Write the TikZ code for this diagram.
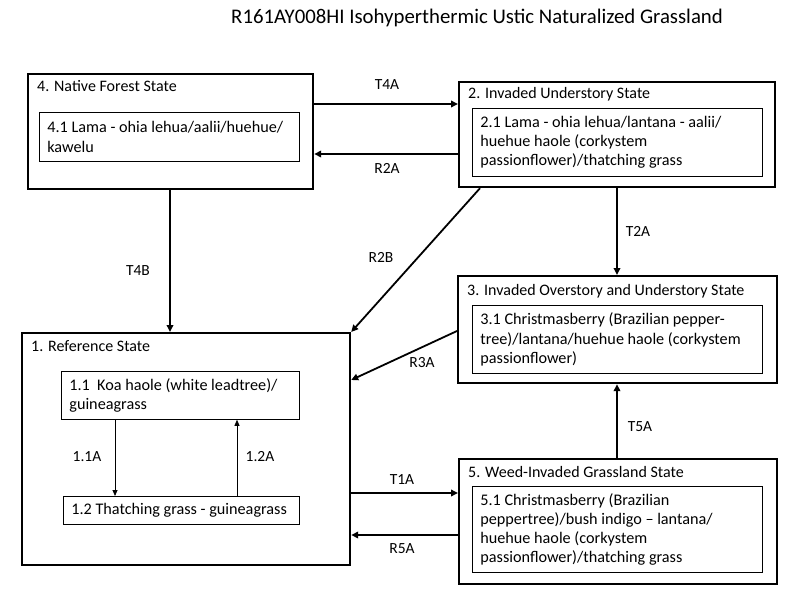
\documentclass[tikz,border=0pt]{standalone}
\usepackage{fontspec}
\setmainfont{Carlito}
\usetikzlibrary{arrows.meta}

\tikzset{
state/.style={draw, line width=2.2pt, anchor=north west, inner sep=0pt},
phase/.style={draw, line width=0.8pt, anchor=north west, align=flush left,
  inner xsep=8pt, inner ysep=0pt, font=\fontsize{16.2}{19.2}\selectfont},
heading/.style={anchor=base west, inner sep=0pt, font=\fontsize{16}{19}\selectfont},
move/.style={line width=1.8pt, -{Triangle[length=7pt,width=6.5pt]}},
pathway/.style={line width=0.8pt, -{Triangle[length=6pt,width=5pt]}},
tag/.style={inner sep=0pt, font=\fontsize{15.5}{17}\selectfont}}

\begin{document}
\begin{tikzpicture}[x=1pt, y=-1pt]
  \useasboundingbox (0,0) rectangle (800,599);
  \node[anchor=center, font=\fontsize{20.8}{24}\selectfont] (title) at (477,18)
    {R161AY008HI Isohyperthermic Ustic Naturalized Grassland};

  % states
  \node[state, minimum width=285pt, minimum height=115pt] (s4) at (27,73) {};
  \node[state, minimum width=316pt, minimum height=105pt] (s2) at (458,81) {};
  \node[state, minimum width=319pt, minimum height=107pt] (s3) at (457,275) {};
  \node[state, minimum width=328pt, minimum height=232pt] (s1) at (21,332) {};
  \node[state, minimum width=318pt, minimum height=125pt] (s5) at (458,458) {};

  \node[heading] (t4) at (37,92) {4. Native Forest State};
  \node[heading] (t2) at (468,99) {2. Invaded Understory State};
  \node[heading] (t3) at (467,295) {3. Invaded Overstory and Understory State};
  \node[heading] (t1) at (31,351) {1. Reference State};
  \node[heading] (t5) at (468,477) {5. Weed-Invaded Grassland State};

  % phases
  \node[phase, text width=244pt, minimum height=49pt] (p41) at (39,112)
    {4.1 Lama - ohia lehua/aalii/huehue/\\kawelu};
  \node[phase, text width=274pt, minimum height=68pt] (p21) at (472,108)
    {2.1 Lama - ohia lehua/lantana - aalii/\\huehue haole (corkystem\\passionflower)/thatching grass};
  \node[phase, text width=274pt, minimum height=68pt] (p31) at (472,305)
    {3.1 Christmasberry (Brazilian pepper-\\tree)/lantana/huehue haole (corkystem\\passionflower)};
  \node[phase, text width=222pt, minimum height=48pt] (p11) at (61,371)
    {1.1\ \ Koa haole (white leadtree)/\\guineagrass};
  \node[phase, text width=220pt, minimum height=28pt] (p12) at (63,496)
    {1.2 Thatching grass - guineagrass};
  \node[phase, text width=274pt, minimum height=86pt] (p51) at (472,486)
    {5.1 Christmasberry (Brazilian\\peppertree)/bush indigo -- lantana/\\huehue haole (corkystem\\passionflower)/thatching grass};

  % transitions
  \draw[move] (s4.east |- 0,104) -- (s2.west |- 0,104);
  \draw[move] (s2.west |- 0,154) -- (s4.east |- 0,154);
  \draw[move] (s2.south -| 617,0) -- (s3.north -| 617,0);
  \draw[move] (s4.south -| 170,0) -- (s1.north -| 170,0);
  \draw[move] (s2.south -| 480,0) -- (s1.north east);
  \draw[move] (s3.west |- 0,331) -- (s1.east |- 0,380);
  \draw[move] (s1.east |- 0,493) -- (s5.west |- 0,493);
  \draw[move] (s5.west |- 0,535) -- (s1.east |- 0,535);
  \draw[move] (s5.north -| 617,0) -- (s3.south -| 617,0);
  \draw[pathway] (p11.south -| 115,0) -- (p12.north -| 115,0);
  \draw[pathway] (p12.north -| 237,0) -- (p11.south -| 237,0);

  % labels
  \node[tag] (lT4A) at (387,85) {T4A};
  \node[tag] (lR2A) at (387,168) {R2A};
  \node[tag] (lT2A) at (638,231) {T2A};
  \node[tag] (lR2B) at (381,257) {R2B};
  \node[tag] (lT4B) at (138,271) {T4B};
  \node[tag] (lR3A) at (422,363) {R3A};
  \node[tag] (lT1A) at (402,480) {T1A};
  \node[tag] (lR5A) at (402,549) {R5A};
  \node[tag] (lT5A) at (640,427) {T5A};
  \node[tag] (l11A) at (87,457) {1.1A};
  \node[tag] (l12A) at (260,457) {1.2A};
\end{tikzpicture}
\end{document}
